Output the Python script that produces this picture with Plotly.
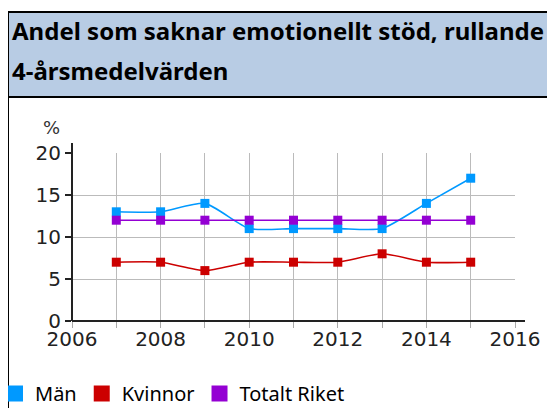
import plotly.graph_objects as go

years = [2007, 2008, 2009, 2010, 2011, 2012, 2013, 2014, 2015]
man = [13, 13, 14, 11, 11, 11, 11, 14, 17]
kvinnor = [7, 7, 6, 7, 7, 7, 8, 7, 7]
totalt = [12, 12, 12, 12, 12, 12, 12, 12, 12]

series_names = ["Män", "Kvinnor", "Totalt Riket"]
series_colors = ["#0099FF", "#CC0000", "#9400D3"]
title_lines = ["Andel som saknar emotionellt stöd, rullande", "4-årsmedelvärden"]
x_ticks = [2006, 2008, 2010, 2012, 2014, 2016]
y_ticks = [0, 5, 10, 15, 20]

# the page body adds an 8px margin; figure coordinates below are screen px - 8
OFF = 8
W, H = 555 - OFF, 408 - OFF
L, R, T, B = 72 - OFF, 515 - OFF, 153 - OFF, 321 - OFF  # plot area


def xp(px):  # screen px -> paper x
    return (px - OFF - L) / (R - L)


def yp(py):  # screen px -> paper y
    return (B - (py - OFF)) / (B - T)


fig = go.Figure()
for name, vals, col in zip(series_names, [man, kvinnor, totalt], series_colors):
    fig.add_trace(go.Scatter(
        x=years, y=vals, mode="lines+markers", name=name,
        line=dict(color=col, width=1.6, shape="spline", smoothing=0.6),
        marker=dict(symbol="square", size=9, color=col),
        showlegend=False,
    ))
    fig.add_trace(go.Scatter(
        x=[None], y=[None], mode="markers", name=name,
        marker=dict(symbol="square", size=16, color=col),
        showlegend=True,
    ))

shapes = [
    # title band
    dict(type="rect", xref="paper", yref="paper",
         x0=xp(8), x1=xp(600), y0=yp(97), y1=yp(12),
         fillcolor="#B8CCE4", line=dict(color="#000000", width=2), layer="below"),
    # left border
    dict(type="line", xref="paper", yref="paper",
         x0=xp(8), x1=xp(8), y0=yp(97), y1=yp(420),
         line=dict(color="#000000", width=2)),
    # axis lines (extended)
    dict(type="line", xref="paper", yref="paper",
         x0=0, x1=xp(525), y0=0, y1=0, line=dict(color="#222222", width=2)),
    dict(type="line", xref="paper", yref="paper",
         x0=0, x1=0, y0=0, y1=yp(143), line=dict(color="#222222", width=2)),
]

annotations = [
    dict(text="<b>" + title_lines[0] + "</b>", xref="paper", yref="paper",
         x=xp(10), y=yp(31), xanchor="left", yanchor="middle", showarrow=False,
         font=dict(family="Noto Sans", size=24, color="#000000")),
    dict(text="<b>" + title_lines[1] + "</b>", xref="paper", yref="paper",
         x=xp(10), y=yp(70), xanchor="left", yanchor="middle", showarrow=False,
         font=dict(family="Noto Sans", size=24, color="#000000")),
    dict(text="%", xref="paper", yref="paper",
         x=xp(51), y=yp(127), xanchor="center", yanchor="middle", showarrow=False,
         font=dict(family="DejaVu Sans", size=18, color="#333333")),
]

fig.update_layout(
    width=W, height=H,
    margin=dict(l=L, r=W - R, t=T, b=H - B, autoexpand=False),
    paper_bgcolor="#FFFFFF", plot_bgcolor="#FFFFFF",
    shapes=shapes, annotations=annotations,
    legend=dict(orientation="h", x=xp(-5), y=yp(374), xanchor="left", yanchor="top",
                font=dict(family="Noto Sans", size=20, color="#000000"),
                itemwidth=30, tracegroupgap=0, bgcolor="rgba(0,0,0,0)"),
    xaxis=dict(range=[2006, 2016], tickvals=x_ticks, ticktext=[str(v) for v in x_ticks],
               showgrid=True, gridcolor="#BBBBBB", gridwidth=1.3,
               showline=False, zeroline=False,
               ticks="outside", ticklen=6, tickcolor="#AAAAAA", tickwidth=1.3,
               ticklabelstandoff=-6,
               tickfont=dict(family="DejaVu Sans", size=20, color="#222222"),
               fixedrange=True),
    yaxis=dict(range=[0, 20], tickvals=y_ticks, showgrid=True, gridcolor="#BBBBBB",
               gridwidth=1.3, showline=False, zeroline=False,
               ticks="outside", ticklen=6, tickcolor="#222222", tickwidth=1.5,
               tickfont=dict(family="DejaVu Sans", size=20, color="#222222"),
               fixedrange=True),
)
# vertical gridlines every year
fig.update_xaxes(minor=dict(dtick=1, tick0=2006, showgrid=True, gridcolor="#BBBBBB",
                            gridwidth=1.3, ticks="outside", ticklen=6, tickcolor="#AAAAAA"))

fig.write_html("out.html")
